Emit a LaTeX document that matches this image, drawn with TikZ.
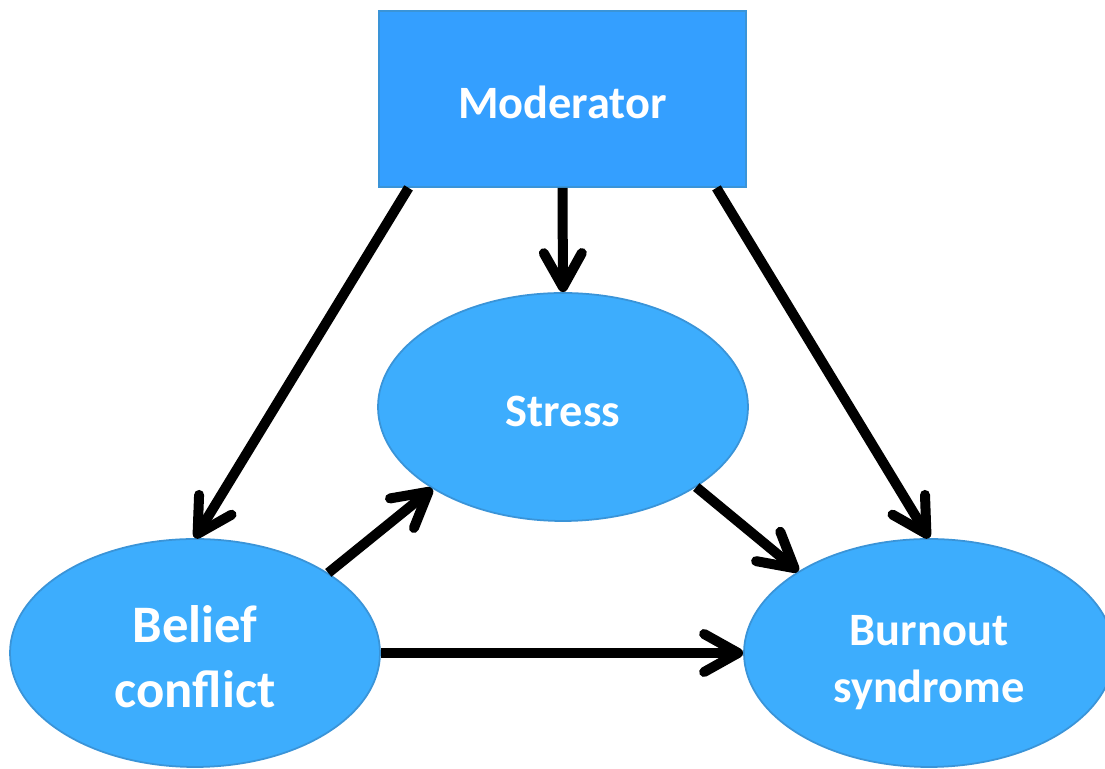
\documentclass[tikz,border=0pt]{standalone}
\usepackage{fontspec}
\setmainfont{Carlito}
\usepackage{tikz}
\usetikzlibrary{arrows.meta,shapes.geometric}

\definecolor{modblue}{HTML}{349FFF}
\definecolor{ellblue}{HTML}{3DADFD}
\definecolor{edgeblue}{HTML}{3A94D8}

\newcommand{\lift}[1]{\rule{0pt}{#1}}

\begin{document}
\begin{tikzpicture}[
    modbox/.style={
        draw=edgeblue, line width=0.5pt, fill=modblue,
        minimum width=3.67cm, minimum height=1.76cm, inner sep=0pt,
        text=white, font=\bfseries\fontsize{13.2}{16}\selectfont
    },
    var/.style={
        ellipse, draw=edgeblue, line width=0.5pt, fill=ellblue,
        minimum width=3.7cm, minimum height=2.28cm, inner sep=0pt,
        text=white, align=center, font=\bfseries\fontsize{13.2}{16.2}\selectfont
    },
    edge/.style={-{Straight Barb[length=3.4mm, width=3.8mm, round]},
        line width=0.1cm, black}
]
\useasboundingbox (0,0) rectangle (11.05,-7.69);

% 1. Moderator
\node[modbox] (mod) at (5.625,-0.99) {\lift{0.39cm}Moderator};

% 2. Variables
\node[var] (stress) at (5.63,-4.07) {\lift{0.40cm}Stress};
\node[var, font=\bfseries\fontsize{15}{18.6}\selectfont] (belief) at (1.95,-6.53) {\lift{0.45cm}Belief\\conflict};
\node[var] (burnout) at (9.29,-6.53) {\lift{0.50cm}Burnout\\syndrome};

% Moderating paths
\draw[edge] (mod.210) -- (belief.north);
\draw[edge] (mod.south) -- (stress.north);
\draw[edge] (mod.330) -- (burnout.north);

% Mediation
\draw[edge] (belief.31) -- (stress.212);
\draw[edge] (stress.329) -- (burnout.148);
\draw[edge] (belief.east) -- (burnout.west);

\end{tikzpicture}
\end{document}
